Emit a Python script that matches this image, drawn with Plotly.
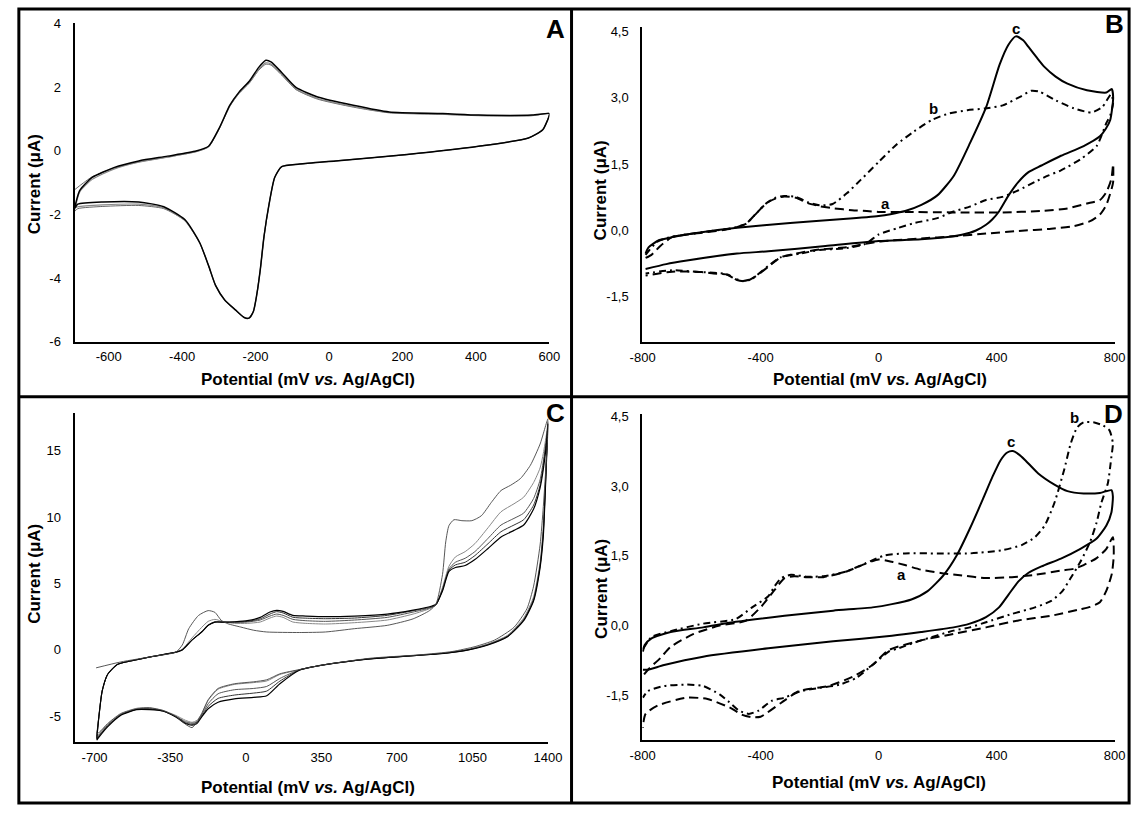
import plotly.graph_objects as go

# ---------------- Panel A : repeated cycles ----------------
A_fwd_x = [-692, -679, -645, -586, -518, -440, -362, -328, -299, -270, -245, -216, -192, -172, -158, -129, -90, -31, 66, 164, 310, 407, 553, 600]
A1_fwd_y = [-1.22, -1.1, -0.82, -0.55, -0.35, -0.2, -0.03, 0.12, 0.69, 1.4, 1.8, 2.14, 2.52, 2.72, 2.69, 2.38, 1.92, 1.62, 1.37, 1.19, 1.14, 1.1, 1.1, 1.17]
A2_fwd_y = [-1.85, -1.3, -0.9, -0.58, -0.36, -0.2, -0.03, 0.13, 0.7, 1.41, 1.82, 2.16, 2.55, 2.76, 2.72, 2.4, 1.94, 1.64, 1.39, 1.2, 1.15, 1.11, 1.11, 1.17]
A3_fwd_y = [-1.8, -1.25, -0.84, -0.53, -0.32, -0.17, -0.01, 0.14, 0.71, 1.43, 1.84, 2.2, 2.61, 2.84, 2.79, 2.46, 1.99, 1.69, 1.43, 1.22, 1.17, 1.12, 1.12, 1.17]
A_rev_x = [600, 582, 543, 407, 212, 18, -80, -129, -148, -163, -177, -187, -197, -206, -218, -231, -255, -284, -309, -328, -352, -392, -450, -518, -616, -684, -692]
A1_rev_y = [1.12, 0.66, 0.4, 0.14, -0.12, -0.32, -0.42, -0.5, -0.84, -1.66, -2.69, -3.72, -4.54, -5.05, -5.26, -5.24, -5.0, -4.69, -4.23, -3.61, -2.9, -2.2, -1.82, -1.72, -1.75, -1.82, -1.9]
A2_rev_y = [1.12, 0.66, 0.4, 0.14, -0.12, -0.32, -0.42, -0.5, -0.84, -1.66, -2.69, -3.72, -4.54, -5.05, -5.26, -5.24, -5.0, -4.69, -4.23, -3.61, -2.9, -2.2, -1.8, -1.68, -1.7, -1.76, -1.8]
A3_rev_y = [1.12, 0.66, 0.4, 0.14, -0.12, -0.32, -0.42, -0.5, -0.84, -1.66, -2.69, -3.72, -4.54, -5.05, -5.26, -5.24, -5.0, -4.69, -4.23, -3.61, -2.89, -2.17, -1.76, -1.61, -1.61, -1.68, -1.8]

# ---------------- Panel B ----------------
B_a_x = [-790, -770, -740, -700, -600, -500, -450, -420, -380, -350, -320, -280, -240, -200, -150, -90, -40, 0, 90, 250, 420, 550, 640, 706, 750, 772, 789, 795,
         795, 790, 772, 750, 717, 662, 585, 474, 364, 254, 144, 34, 0, -44, -110, -200, -264, -330, -374, -420, -450, -480, -510, -560, -600, -700, -790]
B_a_y = [-0.62, -0.55, -0.35, -0.15, -0.05, 0.04, 0.15, 0.35, 0.62, 0.72, 0.77, 0.74, 0.62, 0.55, 0.5, 0.46, 0.44, 0.42, 0.42, 0.41, 0.41, 0.44, 0.5, 0.61, 0.69, 0.87, 1.17, 1.5,
         1.1, 0.95, 0.58, 0.36, 0.21, 0.1, 0.04, -0.01, -0.07, -0.13, -0.18, -0.23, -0.25, -0.3, -0.38, -0.43, -0.5, -0.6, -0.82, -1.05, -1.15, -1.12, -1.0, -0.97, -0.94, -0.93, -1.02]
B_b_x = [-790, -750, -700, -600, -500, -450, -420, -380, -350, -320, -280, -240, -200, -156, -108, -60, 0, 60, 120, 180, 241, 301, 361, 421, 481, 517, 545, 601, 662, 722, 758, 788,
         795, 785, 772, 739, 684, 618, 574, 530, 474, 419, 364, 309, 254, 199, 122, 67, 0, -44, -110, -200, -264, -330, -374, -429, -460, -490, -520, -600, -700, -790]
B_b_y = [-0.55, -0.25, -0.14, -0.04, 0.05, 0.15, 0.35, 0.62, 0.74, 0.78, 0.76, 0.64, 0.57, 0.6, 0.84, 1.15, 1.55, 1.94, 2.24, 2.5, 2.65, 2.72, 2.76, 2.83, 3.03, 3.16, 3.14, 2.94, 2.76, 2.67, 2.79, 3.08,
         2.9, 2.6, 2.43, 1.91, 1.61, 1.36, 1.24, 1.1, 0.91, 0.76, 0.69, 0.54, 0.43, 0.28, 0.17, 0.06, -0.09, -0.3, -0.4, -0.44, -0.52, -0.6, -0.8, -1.09, -1.14, -1.08, -0.98, -0.94, -0.9, -0.97]
B_c_x = [-790, -780, -745, -700, -600, -480, -300, -120, 0, 40, 90, 145, 200, 255, 310, 365, 410, 440, 465, 490, 508, 535, 562, 600, 640, 706, 772, 790,
         795, 785, 770, 750, 695, 618, 552, 508, 474, 441, 408, 385, 364, 330, 309, 254, 144, 0, -180, -374, -480, -650, -720, -790]
B_c_y = [-0.52, -0.38, -0.22, -0.15, -0.04, 0.06, 0.17, 0.26, 0.33, 0.37, 0.44, 0.58, 0.8, 1.24, 1.98, 2.8, 3.75, 4.2, 4.39, 4.3, 4.15, 3.92, 3.7, 3.48, 3.32, 3.17, 3.12, 3.2,
         3.0, 2.5, 2.3, 2.13, 1.91, 1.69, 1.47, 1.32, 1.1, 0.8, 0.43, 0.25, 0.13, 0.0, -0.05, -0.13, -0.2, -0.24, -0.35, -0.47, -0.52, -0.68, -0.76, -0.87]

# ---------------- Panel C : successive cycles ----------------
C1_fwd_x = [-693, -580, -430, -324, -294, -264, -219, -174, -143, -113, -83, -23, 37, 97, 248, 369, 504, 655, 775, 851, 881, 911, 926, 941, 964, 1001, 1047, 1091, 1137, 1182, 1227, 1272, 1318, 1363, 1400]
C1_fwd_y = [-1.35, -0.91, -0.49, -0.17, 0.37, 1.6, 2.59, 2.96, 2.83, 2.22, 1.97, 1.72, 1.48, 1.35, 1.31, 1.35, 1.6, 1.85, 2.34, 2.96, 3.45, 5.67, 8.13, 9.36, 9.8, 9.73, 9.73, 10.1, 11.1, 12.0, 12.4, 12.9, 13.9, 15.5, 17.4]
C1_rev_x = [1393, 1378, 1363, 1333, 1302, 1242, 1152, 1062, 956, 806, 580, 369, 248, 158, 97, 37, -53, -128, -174, -204, -226, -249, -279, -324, -384, -445, -505, -580, -640, -678, -690]
C1_rev_y = [14.6, 10.8, 7.9, 4.8, 3.1, 1.7, 0.74, 0.25, -0.12, -0.37, -0.62, -1.1, -1.48, -1.8, -2.25, -2.4, -2.55, -2.9, -3.75, -4.8, -5.45, -5.85, -5.6, -5.0, -4.55, -4.35, -4.4, -4.8, -5.55, -6.2, -6.3]

C_fwd_x = [-690, -680, -665, -640, -595, -505, -430, -324, -294, -249, -204, -174, -143, -98, -53, 7, 67, 112, 143, 173, 218, 278, 369, 504, 655, 775, 851, 881, 911, 941, 971, 1016, 1061, 1122, 1182, 1242, 1287, 1333, 1363, 1378, 1393, 1400]
C2_fwd_y = [-6.3, -5.0, -3.1, -1.85, -1.1, -0.74, -0.49, -0.17, 0.05, 0.9, 1.7, 2.15, 2.3, 2.1, 2.0, 2.0, 2.1, 2.4, 2.55, 2.45, 2.1, 2.0, 1.95, 2.05, 2.25, 2.7, 3.1, 3.4, 4.7, 6.3, 7.0, 7.4, 8.0, 9.2, 10.4, 11.0, 11.5, 12.6, 13.7, 14.8, 16.3, 17.2]
C4_fwd_y = [-6.5, -5.0, -3.1, -1.85, -1.1, -0.74, -0.49, -0.17, 0.02, 0.75, 1.37, 1.87, 2.12, 2.08, 2.08, 2.1, 2.25, 2.55, 2.7, 2.6, 2.3, 2.2, 2.15, 2.25, 2.45, 2.85, 3.15, 3.4, 4.6, 6.1, 6.6, 6.9, 7.4, 8.4, 9.4, 9.9, 10.3, 11.4, 12.8, 14.2, 16.0, 17.1]
C7_fwd_y = [-6.6, -5.0, -3.1, -1.85, -1.1, -0.74, -0.49, -0.17, 0.0, 0.74, 1.35, 1.85, 2.09, 2.09, 2.09, 2.14, 2.34, 2.7, 2.88, 2.78, 2.46, 2.39, 2.35, 2.4, 2.6, 2.95, 3.2, 3.4, 4.5, 6.0, 6.4, 6.6, 7.1, 8.0, 8.9, 9.4, 9.8, 10.9, 12.4, 13.9, 15.8, 17.0]
C10_fwd_y = [-6.7, -5.0, -3.1, -1.85, -1.1, -0.74, -0.49, -0.17, 0.0, 0.74, 1.35, 1.85, 2.09, 2.09, 2.12, 2.2, 2.45, 2.85, 2.98, 2.9, 2.6, 2.55, 2.5, 2.55, 2.7, 3.0, 3.25, 3.45, 4.43, 5.91, 6.2, 6.35, 6.8, 7.64, 8.5, 9.0, 9.4, 10.6, 12.2, 13.6, 15.6, 17.0]
C_rev_x = [1395, 1388, 1378, 1363, 1333, 1287, 1212, 1122, 1031, 926, 730, 564, 369, 248, 158, 97, 37, -53, -128, -174, -204, -226, -249, -279, -324, -384, -445, -505, -580, -640, -678, -690]
C2_rev_y = [15.5, 12.8, 9.3, 6.6, 4.0, 2.4, 1.1, 0.45, 0.05, -0.22, -0.48, -0.68, -1.1, -1.5, -1.85, -2.34, -2.46, -2.6, -2.96, -3.8, -4.8, -5.3, -5.45, -5.3, -4.93, -4.56, -4.38, -4.45, -4.85, -5.6, -6.3, -6.6]
C4_rev_y = [15.4, 12.6, 9.0, 6.4, 3.85, 2.3, 1.05, 0.42, 0.02, -0.24, -0.49, -0.69, -1.1, -1.5, -2.15, -2.75, -2.9, -3.0, -3.3, -4.05, -4.9, -5.4, -5.52, -5.4, -5.0, -4.6, -4.42, -4.47, -4.88, -5.68, -6.4, -6.7]
C7_rev_y = [15.3, 12.4, 8.8, 6.3, 3.75, 2.25, 1.0, 0.4, 0.0, -0.25, -0.49, -0.69, -1.11, -1.52, -2.35, -3.1, -3.25, -3.4, -3.65, -4.25, -5.0, -5.45, -5.6, -5.48, -5.03, -4.6, -4.45, -4.48, -4.9, -5.73, -6.45, -6.75]
C10_rev_y = [15.2, 12.3, 8.6, 6.2, 3.7, 2.2, 0.99, 0.37, 0.0, -0.25, -0.49, -0.69, -1.11, -1.53, -2.55, -3.45, -3.57, -3.69, -3.94, -4.43, -5.05, -5.54, -5.67, -5.54, -5.05, -4.6, -4.5, -4.5, -4.93, -5.79, -6.53, -6.8]

# ---------------- Panel D ----------------
D_a_x = [-795, -782, -740, -705, -627, -539, -451, -396, -352, -319, -286, -242, -187, -110, -44, 0, 45, 89, 144, 210, 276, 364, 452, 530, 618, 662, 695, 739, 772, 794,
         797, 790, 772, 750, 717, 684, 585, 474, 364, 254, 144, 34, -21, -88, -170, -270, -330, -400, -430, -462, -506, -580, -650, -749, -790, -800]
D_a_y = [-1.05, -0.95, -0.7, -0.46, -0.18, 0.0, 0.1, 0.42, 0.77, 1.02, 1.06, 1.04, 1.04, 1.16, 1.33, 1.42, 1.37, 1.3, 1.2, 1.13, 1.08, 1.02, 1.04, 1.09, 1.18, 1.22, 1.3, 1.45, 1.65, 1.9,
         1.5, 1.1, 0.75, 0.5, 0.4, 0.35, 0.21, 0.11, -0.04, -0.18, -0.32, -0.53, -0.85, -1.1, -1.3, -1.41, -1.66, -1.96, -1.97, -1.92, -1.76, -1.58, -1.55, -1.72, -1.9, -2.2]
D_b_x = [-798, -770, -705, -595, -484, -429, -374, -352, -330, -297, -242, -187, -110, -44, 22, 89, 199, 309, 419, 485, 530, 563, 596, 629, 651, 673, 695, 728, 761, 783, 794,
         789, 777, 755, 739, 717, 684, 651, 623, 585, 530, 452, 364, 309, 254, 144, 67, 34, -21, -77, -132, -198, -264, -319, -363, -407, -440, -473, -506, -539, -595, -650, -727, -782, -799]
D_b_y = [-0.5, -0.25, -0.12, 0.04, 0.14, 0.39, 0.63, 0.85, 1.02, 1.09, 1.05, 1.06, 1.16, 1.34, 1.51, 1.55, 1.55, 1.55, 1.62, 1.73, 1.9, 2.15, 2.64, 3.35, 3.91, 4.26, 4.37, 4.37, 4.3, 4.19, 3.91,
         3.63, 3.06, 2.64, 2.22, 1.8, 1.37, 1.02, 0.74, 0.53, 0.39, 0.25, 0.07, -0.04, -0.11, -0.32, -0.49, -0.56, -0.85, -1.13, -1.27, -1.34, -1.41, -1.55, -1.62, -1.83, -1.9, -1.83, -1.65, -1.48, -1.3, -1.27, -1.3, -1.41, -1.55]
D_c_x = [-799, -793, -771, -705, -595, -484, -319, -154, -21, 45, 111, 166, 221, 265, 309, 353, 386, 414, 436, 455, 475, 496, 541, 596, 640, 695, 750, 789,
         794, 789, 772, 739, 684, 618, 552, 507, 474, 441, 408, 364, 309, 254, 144, 45, -154, -374, -595, -727, -782, -799]
D_c_y = [-0.56, -0.42, -0.28, -0.14, -0.04, 0.08, 0.21, 0.32, 0.39, 0.46, 0.56, 0.74, 1.09, 1.51, 2.08, 2.71, 3.2, 3.56, 3.72, 3.75, 3.68, 3.56, 3.27, 3.03, 2.89, 2.84, 2.85, 2.91,
         2.78, 2.43, 2.15, 1.87, 1.65, 1.44, 1.27, 1.13, 0.95, 0.67, 0.39, 0.18, 0.04, -0.04, -0.14, -0.22, -0.34, -0.49, -0.67, -0.85, -0.95, -0.95]

# ---------------- tick values / labels ----------------
A_xticks = [-600, -400, -200, 0, 200, 400, 600]
A_xticktext = ["-600", "-400", "-200", "0", "200", "400", "600"]
A_yticks = [-6, -4, -2, 0, 2, 4]
A_yticktext = ["-6", "-4", "-2", "0", "2", "4"]
BD_xticks = [-800, -400, 0, 400, 800]
BD_xticktext = ["-800", "-400", "0", "400", "800"]
BD_yticks = [-1.5, 0.0, 1.5, 3.0, 4.5]
BD_yticktext = ["-1,5", "0,0", "1,5", "3,0", "4,5"]
C_xticks = [-700, -350, 0, 350, 700, 1050, 1400]
C_xticktext = ["-700", "-350", "0", "350", "700", "1050", "1400"]
C_yticks = [-5, 0, 5, 10, 15]
C_yticktext = ["-5", "0", "5", "10", "15"]

W, H = 1147, 814
FONT = "Liberation Sans, Arial, sans-serif"
DASH_A = "9px,5px"
DASH_B = "7px,4px,2px,4px"

fig = go.Figure()

def add(x, y, ax, color="black", width=1.0, dash="solid"):
    fig.add_trace(go.Scatter(x=x, y=y, mode="lines", xaxis="x" + ax, yaxis="y" + ax,
                             line=dict(color=color, width=width, dash=dash, shape="spline", smoothing=0.6),
                             hoverinfo="skip", showlegend=False))

# Panel A
add(A_fwd_x + A_rev_x, A1_fwd_y + A1_rev_y, "", "#555555", 0.9)
add(A_fwd_x + A_rev_x, A2_fwd_y + A2_rev_y, "", "#888888", 1.2)
add(A_fwd_x + A_rev_x, A3_fwd_y + A3_rev_y, "", "black", 1.5)

# Panel B
add(B_a_x, B_a_y, "2", "black", 2, DASH_A)
add(B_b_x, B_b_y, "2", "black", 2, DASH_B)
add(B_c_x, B_c_y, "2", "black", 2)

# Panel C
add(C_fwd_x + C_rev_x, C2_fwd_y + C2_rev_y, "3", "#888888", 1)
add(C_fwd_x + C_rev_x, C4_fwd_y + C4_rev_y, "3", "#555555", 1)
add(C_fwd_x + C_rev_x, C7_fwd_y + C7_rev_y, "3", "#333333", 1)
add(C_fwd_x + C_rev_x, C10_fwd_y + C10_rev_y, "3", "black", 1.2)
add(C1_fwd_x + C1_rev_x, C1_fwd_y + C1_rev_y, "3", "#444444", 0.9)

# Panel D
add(D_a_x, D_a_y, "4", "black", 2, DASH_A)
add(D_b_x, D_b_y, "4", "black", 2, DASH_B)
add(D_c_x, D_c_y, "4", "black", 2)

def px(x):
    return x / W

def py(y):
    return 1 - y / H

def xaxis(dom, rng, vals, text, anchor):
    return dict(domain=[px(dom[0]), px(dom[1])], range=rng, anchor=anchor, showline=True, linecolor="black",
                linewidth=2, showgrid=False, zeroline=False, ticks="", tickmode="array", tickvals=vals,
                ticktext=text, tickfont=dict(family=FONT, size=13, color="black"), ticklabelstandoff=2,
                fixedrange=True)

def yaxis(dom, rng, vals, text, anchor):
    return dict(domain=[py(dom[1]), py(dom[0])], range=rng, anchor=anchor, showline=True, linecolor="black",
                linewidth=2, showgrid=False, zeroline=False, ticks="", tickmode="array", tickvals=vals,
                ticktext=text, tickfont=dict(family=FONT, size=13, color="black"), ticklabelstandoff=9,
                fixedrange=True)

fig.update_layout(
    width=W, height=H, margin=dict(l=0, r=0, t=0, b=0),
    paper_bgcolor="white", plot_bgcolor="white", showlegend=False,
    xaxis=xaxis((63, 549.3), [-693, 600], A_xticks, A_xticktext, "y"),
    yaxis=yaxis((16.7, 341), [-6, 4], A_yticks, A_yticktext, "x"),
    xaxis2=xaxis((644.5, 1128.5), [-801, 801], BD_xticks, BD_xticktext, "y2"),
    yaxis2=yaxis((20, 341.7), [-2.53, 4.61], BD_yticks, BD_yticktext, "x2"),
    xaxis3=xaxis((63, 548.2), [-793, 1401], C_xticks, C_xticktext, "y3"),
    yaxis3=yaxis((413.3, 749.3), [-6.97, 17.86], C_yticks, C_yticktext, "x3"),
    xaxis4=xaxis((644.5, 1128.5), [-801, 801], BD_xticks, BD_xticktext, "y4"),
    yaxis4=yaxis((415, 746.7), [-2.46, 4.54], BD_yticks, BD_yticktext, "x4"),
)

ann = []
xt = "<b>Potential (mV <i>vs.</i> Ag/AgCl)</b>"
yt = "<b>Current (μA)</b>"
for (x, y) in [(302, 380), (888, 380), (302.5, 795), (886.5, 790)]:
    ann.append(dict(x=px(x), y=py(y), xref="paper", yref="paper", text=xt, showarrow=False,
                    font=dict(family=FONT, size=17, color="black"), xanchor="center", yanchor="middle"))
for (x, y) in [(22, 180), (602, 187), (22, 577), (602, 593)]:
    ann.append(dict(x=px(x), y=py(y), xref="paper", yref="paper", text=yt, showarrow=False, textangle=-90,
                    font=dict(family=FONT, size=17, color="black"), xanchor="center", yanchor="middle"))
for (t, x, y) in [("A", 556, 22), ("B", 1128, 17), ("C", 556, 414), ("D", 1127, 415)]:
    ann.append(dict(x=px(x), y=py(y), xref="paper", yref="paper", text="<b>" + t + "</b>", showarrow=False,
                    font=dict(family=FONT, size=26, color="black"), xanchor="center", yanchor="middle"))
for (t, x, y) in [("c", 1027, 22), ("b", 943, 103), ("a", 894, 200), ("b", 1087, 418), ("c", 1022, 443), ("a", 910, 578)]:
    ann.append(dict(x=px(x), y=py(y), xref="paper", yref="paper", text="<b>" + t + "</b>", showarrow=False,
                    font=dict(family=FONT, size=15, color="black"), xanchor="center", yanchor="middle"))
fig.update_layout(annotations=ann)

fig.update_layout(shapes=[
    dict(type="rect", xref="paper", yref="paper", x0=px(6), x1=px(1143), y0=py(811), y1=py(2),
         line=dict(color="black", width=3)),
    dict(type="line", xref="paper", yref="paper", x0=px(572), x1=px(572), y0=py(811), y1=py(2),
         line=dict(color="black", width=3)),
    dict(type="line", xref="paper", yref="paper", x0=px(6), x1=px(1143), y0=py(397), y1=py(397),
         line=dict(color="black", width=3)),
])

fig.write_html("out.html", config={"displayModeBar": False, "staticPlot": True},
               post_script="document.body.style.margin='0';document.body.style.overflow='hidden';")
